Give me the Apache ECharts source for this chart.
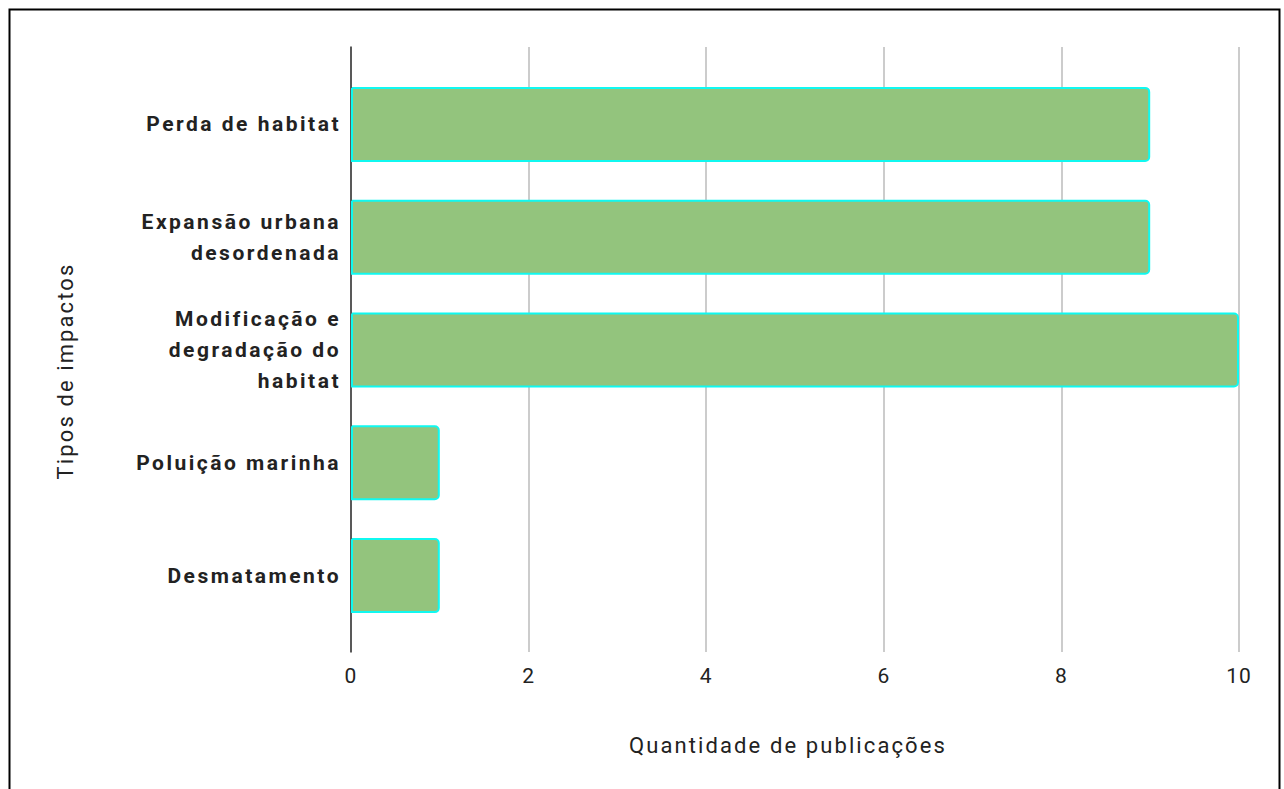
<!DOCTYPE html>
<html>
<head>
<meta charset="utf-8">
<script src="https://cdn.jsdelivr.net/npm/echarts@6/dist/echarts.min.js"></script>
<style>
html,body{margin:0;padding:0;background:#fff;}
#chart{width:1284px;height:789px;}
#chart svg text[style*="21px"]{letter-spacing:1px;}
#chart svg text[style*="22px"]{letter-spacing:2.1px;}
#chart svg text[style*="bold"]{letter-spacing:2.5px;}
</style>
</head>
<body>
<div id="chart"></div>
<script>
const categories = ["Perda de habitat", "Expansão urbana\ndesordenada", "Modificação e\ndegradação do\nhabitat", "Poluição marinha", "Desmatamento"];
const values = [9, 9, 10, 1, 1];
const xTicks = [0, 2, 4, 6, 8, 10];
const xTitle = "Quantidade de publicações";
const yTitle = "Tipos de impactos";

const chart = echarts.init(document.getElementById('chart'), null, {renderer: 'svg'});
const font = 'Roboto';
chart.setOption({
  animation: false,
  backgroundColor: '#fff',
  graphic: [
    {
      type: 'rect', left: 7, top: 7,
      shape: {x: 0, y: 0, width: 1270, height: 800},
      style: {fill: 'none', stroke: '#000', lineWidth: 2}, silent: true, z: 100
    },
    {
      type: 'text', x: 788, y: 745, silent: true,
      style: {text: xTitle, fill: '#222', font: '22px Roboto', textAlign: 'center', textVerticalAlign: 'middle'}
    },
    {
      type: 'text', x: 65, y: 371, rotation: Math.PI / 2, silent: true,
      style: {text: yTitle, fill: '#222', font: '22px Roboto', textAlign: 'center', textVerticalAlign: 'middle'}
    }
  ],
  grid: [
    {left: 351, right: 45, top: 47, bottom: 137},
    {left: 351, right: 45, top: 68, bottom: 157}
  ],
  xAxis: [
    {
      gridIndex: 0, type: 'value', min: xTicks[0], max: xTicks[xTicks.length - 1], interval: 2,
      axisLine: {show: false}, axisTick: {show: false},
      axisLabel: {color: '#222', fontFamily: font, fontSize: 21, margin: 13},
      splitLine: {show: true, lineStyle: {color: '#cccccc', width: 2}}
    },
    {
      gridIndex: 1, type: 'value', min: xTicks[0], max: xTicks[xTicks.length - 1], interval: 2,
      show: false, splitLine: {show: false}
    }
  ],
  yAxis: [
    {
      gridIndex: 0, type: 'category', data: categories, inverse: true,
      axisLine: {show: true, lineStyle: {color: '#333', width: 1.5}},
      axisTick: {show: false}, axisLabel: {show: false}, splitLine: {show: false}
    },
    {
      gridIndex: 1, type: 'category', data: categories, inverse: true,
      axisLine: {show: false}, axisTick: {show: false},
      axisLabel: {color: '#222', fontFamily: font, fontSize: 21, fontWeight: 'bold', margin: 10, lineHeight: 31, align: 'right'}
    }
  ],
  series: [{
    type: 'bar', xAxisIndex: 1, yAxisIndex: 1, data: values, barWidth: 75,
    itemStyle: {color: '#93c47d', borderColor: '#10f8f0', borderWidth: 2, borderRadius: [0, 4, 4, 0]}
  }]
});
</script>
</body>
</html>
